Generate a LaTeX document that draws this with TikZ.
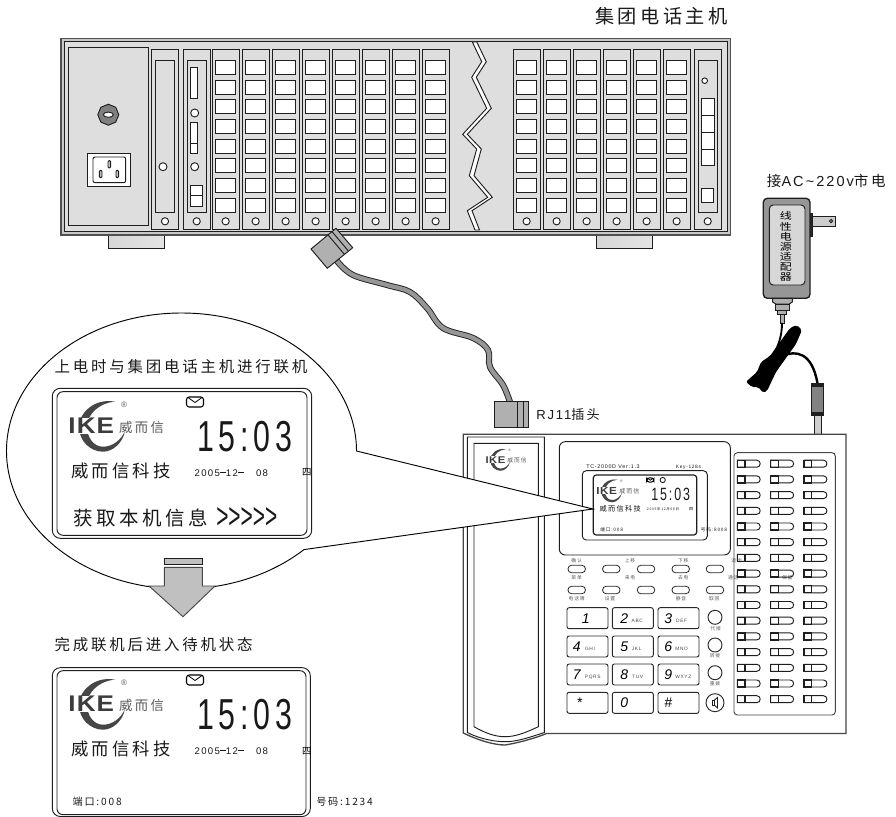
\documentclass[tikz,border=0pt]{standalone}
\usepackage{fontspec}
\setmainfont[LetterSpace=14]{Liberation Sans}
\newfontfamily\cjk[LetterSpace=18]{Noto Sans CJK SC}
\newfontfamily\clockfont[FakeStretch=0.7,LetterSpace=11]{Liberation Sans}
\newfontfamily\chevfont[FakeStretch=0.58]{Liberation Sans}
\newfontfamily\ikefont[FakeStretch=1.15,LetterSpace=5]{Liberation Sans}
\newfontfamily\adapterfont[FakeStretch=1.25]{Noto Sans CJK SC}
\newcommand{\cjksize}[1]{\cjk\fontsize{#1}{#1}\selectfont}
\newcommand{\latsize}[1]{\fontsize{#1}{#1}\selectfont}

\tikzset{
  hw/.style={draw={rgb,255:red,30;green,30;blue,30},line width=0.7pt},
  panel/.style={hw,fill={rgb,255:red,222;green,222;blue,222}},
  port/.style={hw,fill=white},
  steel/.style={hw,fill={rgb,255:red,176;green,176;blue,176}},
  softkey/.style={draw={rgb,255:red,40;green,40;blue,40},line width=0.6pt,fill=white,rounded corners=2.6pt},
  padkey/.style={draw={rgb,255:red,40;green,40;blue,40},line width=0.7pt,fill=white,rounded corners=1.6pt},
  lbl/.style={anchor=west,inner sep=0pt,text={rgb,255:red,25;green,25;blue,25}},
  faint/.style={inner sep=0pt,text={rgb,255:red,90;green,90;blue,90},font=\cjksize{3.6}},
  footbar/.style={hw,left color={rgb,255:red,214;green,214;blue,214},middle color={rgb,255:red,140;green,140;blue,140},right color={rgb,255:red,228;green,228;blue,228}}
}

\newcommand{\ikelogo}[4]{%
\begin{scope}[shift={(#2,#3)},scale=#4]
\fill [color={rgb,255:red,70;green,70;blue,70}] (12,-25) .. controls (-8,-29) and (-24,-14) .. (-24,0) .. controls (-24,15) and (-12,25) .. (0,25) .. controls (10,25) and (20,16) .. (22,4) .. controls (18,14) and (9,20) .. (0,20) .. controls (-10,20) and (-16,10) .. (-16,0) .. controls (-16,-12) and (-4,-24) .. (12,-25) -- cycle ;
\draw (-11.7,-0.7) node (#1ike) [scale=#4,inner sep=0pt,fill=white,text={rgb,255:red,60;green,60;blue,60},font=\ikefont\latsize{17}\bfseries] {IKE};
\draw (38.5,1) node (#1cn) [scale=#4,inner sep=0pt,text={rgb,255:red,90;green,90;blue,90},font=\cjksize{10}] {威而信};
\draw (21,-22.4) node (#1reg) [scale=#4,inner sep=0pt,text={rgb,255:red,90;green,90;blue,90},font=\latsize{6}] {®};
\end{scope}}

\newcommand{\mailicon}[3]{%
\begin{scope}[shift={(#1,#2)},scale=#3]
\draw [line width=0.8pt,rounded corners=2pt] (-8.5,-5) rectangle (8.5,5) ;
\draw [line width=0.6pt] (-7,-4.5) -- (0,0.5) -- (7,-4.5) ;
\end{scope}}

\newcommand{\lcdface}[2]{%
\begin{scope}[shift={(0,#2)}]
\ikelogo{#1}{103}{426.7}{1}
\mailicon{195}{402}{1}
% Text Node
\draw (197,437) node (#1clock) [lbl,font=\clockfont\latsize{32.5}] {15:03};
% Text Node
\draw (71,471.3) node (#1name) [lbl,font=\cjksize{13}] {威而信科技};
% Text Node
\draw (194.3,472.7) node (#1date) [lbl,font=\latsize{7.2}] {2005\rule[2pt]{4.5pt}{1.3pt}12\rule[2pt]{4.5pt}{1.3pt}\ \ \ 08};
% Text Node
\draw (306.7,472.7) node (#1week) [inner sep=0pt,font=\cjksize{7}] {四};
\end{scope}}

\begin{document}
\begin{tikzpicture}[x=0.75pt,y=0.75pt,yscale=-1,xscale=1]
\useasboundingbox (0,0) rectangle (896,817);

%Shape: Rectangle [feet]
\draw [footbar] (108.3,233) rectangle (164.7,248.3) ;
\draw [footbar] (596.3,233) rectangle (652.3,248.3) ;

%Shape: Rectangle [chassis]
\draw [hw,fill={rgb,255:red,200;green,200;blue,200},draw={rgb,255:red,80;green,80;blue,80},line width=1pt] (61,38.5) rectangle (730.5,235) ;
\draw [panel] (64,41.5) rectangle (727.5,231) ;
\draw [panel] (68,47) rectangle (148,225) ;

%Shape: Polygon [nut]
\draw [hw,fill={rgb,255:red,128;green,128;blue,128}] (108.3,114.7) +(0:10.5) -- +(45:10.5) -- +(90:10.5) -- +(135:10.5) -- +(180:10.5) -- +(225:10.5) -- +(270:10.5) -- +(315:10.5) -- cycle ;
\draw [hw,fill=white] (108.3,114.7) ellipse (5 and 2.6) ;

%Shape: Rectangle [power inlet]
\draw [hw,fill=white] (87.7,153.3) rectangle (130.7,186.3) ;
\draw [hw,rounded corners=1.5pt] (93,157) rectangle (125.7,182.7) ;
\foreach \sx/\sy in {100.7/174,109.3/164.3,117.3/174}
  \draw [hw,fill={rgb,255:red,190;green,190;blue,190},rounded corners=0.8pt] (\sx-1.3,\sy-3.7) rectangle (\sx+1.3,\sy+3.7) ;

%Shape: Rectangle [blank card]
\draw [panel] (151.3,49.7) rectangle (178.3,229.7) ;
\draw [panel] (155.3,60) rectangle (174.7,212) ;
\draw [port] (163,166.7) circle (4) ;
\draw [port] (165,221.3) circle (3.6) ;

%Shape: Rectangle [control card]
\draw [panel] (183.3,49.7) rectangle (210.3,229.7) ;
\draw [panel] (187,60) rectangle (206.7,212) ;
\draw [port] (190.3,67.3) rectangle (197.7,98.3) ;
\draw [port] (194.7,113) circle (4) ;
\draw [port] (190.3,122) rectangle (197.7,153.3) ;
\draw [hw] (190.3,143.3) -- (197.7,143.3) ;
\draw [port] (194.7,166.7) circle (4) ;
\draw [port] (190.3,185.3) rectangle (202.7,206.3) ;
\draw [hw] (190.3,195.7) -- (202.7,195.7) ;
\draw [port] (196.7,221.3) circle (3.6) ;

%Shape: Rectangle [port cards]
\foreach \cardx in {212.3,242.3,272.3,302.3,332.3,362.3,392.3,422.3,513.3,543.3,573.3,603.3,633.3,663.3} {
  \draw [panel] (\cardx,49.7) rectangle (\cardx+27,229.7) ;
  \foreach \porty in {60.3,80,99.7,119.3,139,158.7,178.3,198}
    \draw [port] (\cardx+3.4,\porty) rectangle (\cardx+23.4,\porty+14) ;
  \draw [port] (\cardx+13.3,221.3) circle (3.6) ;
}

%Shape: Rectangle [last card]
\draw [panel] (694.3,49.7) rectangle (721.7,229.7) ;
\draw [panel] (698,60) rectangle (717.7,212) ;
\draw [port] (704.7,80.7) circle (2.8) ;
\draw [port] (701.3,98) rectangle (714.3,165.7) ;
\foreach \liney in {115.3,132,149}
  \draw [hw] (701.3,\liney) -- (714.3,\liney) ;
\draw [port] (701.3,188.7) rectangle (713.7,202) ;
\draw [port] (707.7,221.3) circle (3.6) ;

%Shape: Polygon [break mark]
\draw [hw,fill=white] (472.3,42) -- (481.7,61.7) -- (471.7,77.3) -- (486.7,108.3) -- (462.7,134.3) -- (476.7,149) -- (469.3,175.7) -- (487.7,197.3) -- (467.3,210.7) -- (475,230) -- (479.5,230) -- (472,210.7) -- (492.3,197.3) -- (474,175.7) -- (481.3,149) -- (467.3,134.3) -- (491.3,108.3) -- (476.3,77.3) -- (486.3,61.7) -- (476.8,42) -- cycle ;

% Text Node
\draw (595,16) node (hostlabel) [lbl,font=\cjksize{14.4}] {集团电话主机};

%Straight Lines [cable]
\coordinate (plugA) at (337,261) ;
\coordinate (plugB) at (510,402) ;
\draw [line width=4.6pt,color={rgb,255:red,35;green,35;blue,35},line cap=round] plot [smooth,tension=0.6] coordinates {(plugA) (353,275) (387,285) (410,292) (427,308) (443,328) (473,338) (488,350) (490,367) (503,385) (plugB)} ;
\draw [line width=3.2pt,color={rgb,255:red,150;green,150;blue,150}] plot [smooth,tension=0.6] coordinates {(plugA) (353,275) (387,285) (410,292) (427,308) (443,328) (473,338) (488,350) (490,367) (503,385) (plugB)} ;

%Shape: Polygon [upper plug]
\draw [steel] (311,249) -- (336,228.3) -- (352.7,247.7) -- (327.3,268.3) -- cycle ;
\draw [hw] (328,234.9) -- (344.3,254.2) ;
\draw [hw] (332,231.6) -- (348.3,250.9) ;

%Shape: Rectangle [lower plug]
\draw [steel] (494.3,401.7) rectangle (528,427.3) ;
\draw [hw] (517.7,401.7) -- (517.7,427.3) ;
\draw [hw] (523.7,401.7) -- (523.7,427.3) ;

% Text Node
\draw (536,414.3) node (plugtext) [lbl,font=\latsize{9.8}] {RJ11{\cjk 插头}};

% Text Node
\draw (766.7,181) node (mainslabel) [lbl,font=\latsize{10.9}] {{\cjk 接}AC\textasciitilde 220v{\cjk 市电}};

%Shape: Rectangle [adapter]
\draw [hw,fill={rgb,255:red,40;green,40;blue,40}] (810,213) rectangle (812.3,236) ;
\draw [hw,fill={rgb,255:red,205;green,205;blue,205}] (812.3,216.3) rectangle (835.3,226) ;
\draw [hw,fill=white] (831,221) circle (1.6) ;
\draw [hw,fill={rgb,255:red,150;green,150;blue,150},line width=1pt,rounded corners=3pt] (763.3,198.3) rectangle (810,298.3) ;
\draw [hw,fill={rgb,255:red,215;green,215;blue,215},rounded corners=3pt] (769.3,205) rectangle (805,285) ;
% Text Node
\draw (785.8,246.7) node (adaptertext) [inner sep=0pt,align=center,font=\adapterfont\fontsize{7.2}{7.6}\selectfont] {线\\性\\电\\源\\适\\配\\器};
\draw [steel] (772.7,298.3) -- (792.3,298.3) -- (792.3,302) -- (789.3,304) -- (775.7,304) -- (772.7,302) -- cycle ;
\draw [steel] (775.7,304) rectangle (789.3,310) ;
\draw [steel] (777.7,310) rectangle (786.7,314) ;
\draw [steel] (780,314) rectangle (784.3,323) ;

%Shape: Polygon [coiled cord]
\coordinate (cordtop) at (782,323) ;
\coordinate (barreltop) at (817.5,383.5) ;
\draw [line width=1.4pt] (cordtop) .. controls (782,335) and (779,345) .. (772,358) ;
\fill [black,rounded corners=1.5pt] (790,328) -- (796.7,325) -- (802,330) -- (796,344) -- (786,358) -- (776,372) -- (767,391) -- (763.3,393) -- (758.3,387) -- (751.7,387) -- (746,381.7) -- (757,372) -- (761,362) -- (770,356) -- (780,342) -- cycle ;
\draw [line width=1.8pt] (782,356) .. controls (796,350) and (812,352) .. (barreltop) ;

%Shape: Rectangle [barrel plug]
\draw [hw,fill={rgb,255:red,130;green,130;blue,130}] (811.7,383.3) rectangle (823.3,415) ;
\fill [color={rgb,255:red,30;green,30;blue,30}] (811.7,383.3) rectangle (823.3,386.5) ;
\fill [color={rgb,255:red,30;green,30;blue,30}] (811.7,411.5) rectangle (823.3,415) ;
\draw [hw,fill={rgb,255:red,205;green,205;blue,205}] (814,415) rectangle (821.3,434.3) ;

%Shape: Polygon [phone body]
\draw [hw,draw={rgb,255:red,70;green,70;blue,70},line width=1pt,fill=white] (463.3,434.3) -- (846,434.3) -- (846,733.5) -- (546.7,733.5) .. controls (525,742) and (505,745) .. (505,745) .. controls (495,745) and (480,741) .. (463.3,733) -- cycle ;
%Shape: Polygon [cradle]
\draw [hw] (467.3,437) -- (544.3,437) -- (544.3,732.5) .. controls (525,739) and (515,741.7) .. (505,741.7) .. controls (495,741.7) and (480,739) .. (467.3,732.5) -- cycle ;
\draw [hw] (474,443.3) -- (538.3,443.3) -- (538.3,726.7) .. controls (525,733) and (515,736.7) .. (505,736.7) .. controls (495,736.7) and (485,733) .. (474,726.7) -- cycle ;
\ikelogo{hand}{500.5}{460}{0.43}

%Shape: Rectangle [display module]
\draw [hw,rounded corners=4.5pt] (559.3,441.7) rectangle (730.3,555) ;
\draw [hw,rounded corners=3pt] (582.3,470.7) rectangle (707.3,540) ;
\draw [hw,line width=0.9pt,rounded corners=2.2pt] (593.3,475) rectangle (696.7,535) ;
% Text Node
\draw (586,466.7) node (model) [lbl,font=\latsize{4}] {TC-2000D Ver:1.3};
% Text Node
\draw (675.7,467.7) node (keys) [lbl,font=\latsize{3.6}] {Key-128s};
\ikelogo{small}{612}{491}{0.45}
\mailicon{650.3}{480}{0.42}
\draw [line width=0.6pt] (662.7,480) circle (2.6) ;
% Text Node
\draw (651,494.3) node (smallclock) [lbl,font=\clockfont\latsize{13.3}] {15:03};
% Text Node
\draw (599.3,509) node (smallname) [lbl,font=\cjksize{5.4}] {威而信科技};
% Text Node
\draw (646.7,509) node (smalldate) [lbl,font=\cjksize{2.6}] {2005年12月08日};
% Text Node
\draw (691,509) node (smallweek) [inner sep=0pt,font=\cjksize{3}] {四};
% Text Node
\draw (600,530) node (smallport) [lbl,font=\cjksize{3.5}] {端口:008};
% Text Node
\draw (700.7,530) node (smallno) [lbl,font=\cjksize{3.5}] {号码:8008};

%Shape: Ellipse [soft keys]
\foreach \keyx in {576.7,611.3,646,680.7,715}
  \draw [softkey] (\keyx-8.7,565.3) rectangle (\keyx+8.7,572.7) ;
\foreach \keyx in {576.7,611.3,646,680.7,715}
  \draw [softkey] (\keyx-8.7,586.3) rectangle (\keyx+8.7,593.7) ;

% Text Node
\draw (576.7,561) node (t1) [faint] {确认};
\draw (630,561) node (t2) [faint] {上移};
\draw (683.3,561) node (t3) [faint] {下移};
\draw (736.7,561) node (t4) [faint] {退出};
\draw (576.7,577.3) node (t5) [faint] {菜单};
\draw (630,577.3) node (t6) [faint] {来电};
\draw (683.3,577.3) node (t7) [faint] {去电};
\draw (733.3,577.3) node (t8) [faint] {通话};
\draw (787.3,577.3) node (t9) [faint] {保留};
\draw (576.7,598.3) node (t10) [faint] {电话簿};
\draw (610,598.3) node (t11) [faint] {设置};
\draw (681,598.3) node (t12) [faint] {静音};
\draw (714.3,598.3) node (t13) [faint] {取回};

%Shape: Rectangle [keypad]
\foreach \keyx in {567,612.3,658}
  \foreach \keyy in {607.7,636,664,692.3}
    \draw [padkey] (\keyx,\keyy) rectangle (\keyx+41,\keyy+21) ;
% Text Node
\foreach \dname/\dx/\dy/\dtxt in {k1/585.7/618.3/1,k2/624.3/618.3/2,k3/668.3/618.3/3,k4/576.7/646.7/4,k5/624.3/646.7/5,k6/668.3/646.7/6,k7/576.7/674.7/7,k8/624.3/674.7/8,k9/668.3/674.7/9,k0/624.3/702.5/0,khash/668.3/702.5/\#,kstar/579.3/703/*}
  \draw (\dx,\dy) node (\dname) [inner sep=0pt,font=\latsize{10.5}\itshape] {\dtxt};
\foreach \lname/\lx/\ly/\ltxt in {l2/637.3/621/ABC,l3/681.7/621/DEF,l4/590/649/GHI,l5/636.7/649/JKL,l6/681.7/649/MNO,l7/592.7/677/PQRS,l8/637.7/677/TUV,l9/683.3/677/WXYZ}
  \draw (\lx,\ly) node (\lname) [inner sep=0pt,text={rgb,255:red,70;green,70;blue,70},font=\latsize{3.6}] {\ltxt};

%Shape: Circle [round keys]
\foreach \roundy in {617.3,645,672.7}
  \draw [padkey] (715,\roundy) circle (7) ;
\draw (715.7,629) node (r1) [faint] {代接};
\draw (715,656) node (r2) [faint] {转接};
\draw (715,683.3) node (r3) [faint] {重拨};
\draw [padkey] (715,702.7) circle (9) ;
\draw [hw] (712.5,700) rectangle (714.5,705.4) ;
\draw [hw] (714.5,700) -- (717.5,697.5) -- (717.5,707.9) -- (714.5,705.4) ;

%Shape: Rectangle [function keys]
\draw [hw,draw={rgb,255:red,70;green,70;blue,70},rounded corners=2.5pt] (734,452.7) rectangle (835.3,715) ;
\foreach \row in {0,...,15}
  \foreach \fkx in {737.3,770.7,804} {
    \draw [hw] (\fkx,463.7+15.7*\row-3.5) -- (\fkx+19.5,463.7+15.7*\row-3.5) .. controls (\fkx+24,463.7+15.7*\row-3.5) and (\fkx+24,463.7+15.7*\row+3.5) .. (\fkx+19.5,463.7+15.7*\row+3.5) -- (\fkx,463.7+15.7*\row+3.5) -- cycle ;
    \draw [hw,line width=1pt] (\fkx,463.7+15.7*\row-3.5) rectangle (\fkx+7.7,463.7+15.7*\row+3.5) ;
  }

%Shape: Polygon [callout]
\draw [line width=0.7pt,fill=white] (356.5,451) arc [start angle=0,end angle=-314.4,x radius=175,y radius=138] -- (593,509) -- cycle ;

% Text Node
\draw (54.3,366.7) node (lcdtitleone) [lbl,font=\cjksize{11.6}] {上电时与集团电话主机进行联机};

%Shape: Rectangle [upper lcd]
\draw [hw,rounded corners=6pt] (52.3,388.3) rectangle (311.7,538.3) ;
\draw [hw,rounded corners=4.5pt] (57,391.7) rectangle (307,535.3) ;
\lcdface{one}{0}
% Text Node
\draw (73.3,518.3) node (syncmsg) [lbl,font=\cjksize{14.6}] {获取本机信息};
% Text Node
\draw (216,518.3) node (syncmark) [lbl,font=\chevfont\latsize{27}] {>>>>>};

%Shape: Polygon [down arrow]
\draw [hw,fill={rgb,255:red,192;green,192;blue,192}] (164.3,558.3) rectangle (202.3,564.3) ;
\draw [hw,fill={rgb,255:red,192;green,192;blue,192},draw={rgb,255:red,70;green,70;blue,70}] (164.3,567.3) -- (202.3,567.3) -- (202.3,586) -- (215,586) -- (183,616.7) -- (149,586) -- (164.3,586) -- cycle ;

% Text Node
\draw (54.3,645) node (lcdtitletwo) [lbl,font=\cjksize{11.6}] {完成联机后进入待机状态};

%Shape: Rectangle [lower lcd]
\draw [hw,rounded corners=6pt] (52.3,667.7) rectangle (310.3,816.5) ;
\draw [hw,rounded corners=4.5pt] (57,670.7) rectangle (306,814.7) ;
\lcdface{two}{278}
% Text Node
\draw (72.3,802) node (portno) [lbl,font=\cjksize{7.6}] {端口:008};
% Text Node
\draw (316,802) node (phoneno) [lbl,font=\cjksize{7.6}] {号码:1234};

\end{tikzpicture}
\end{document}
